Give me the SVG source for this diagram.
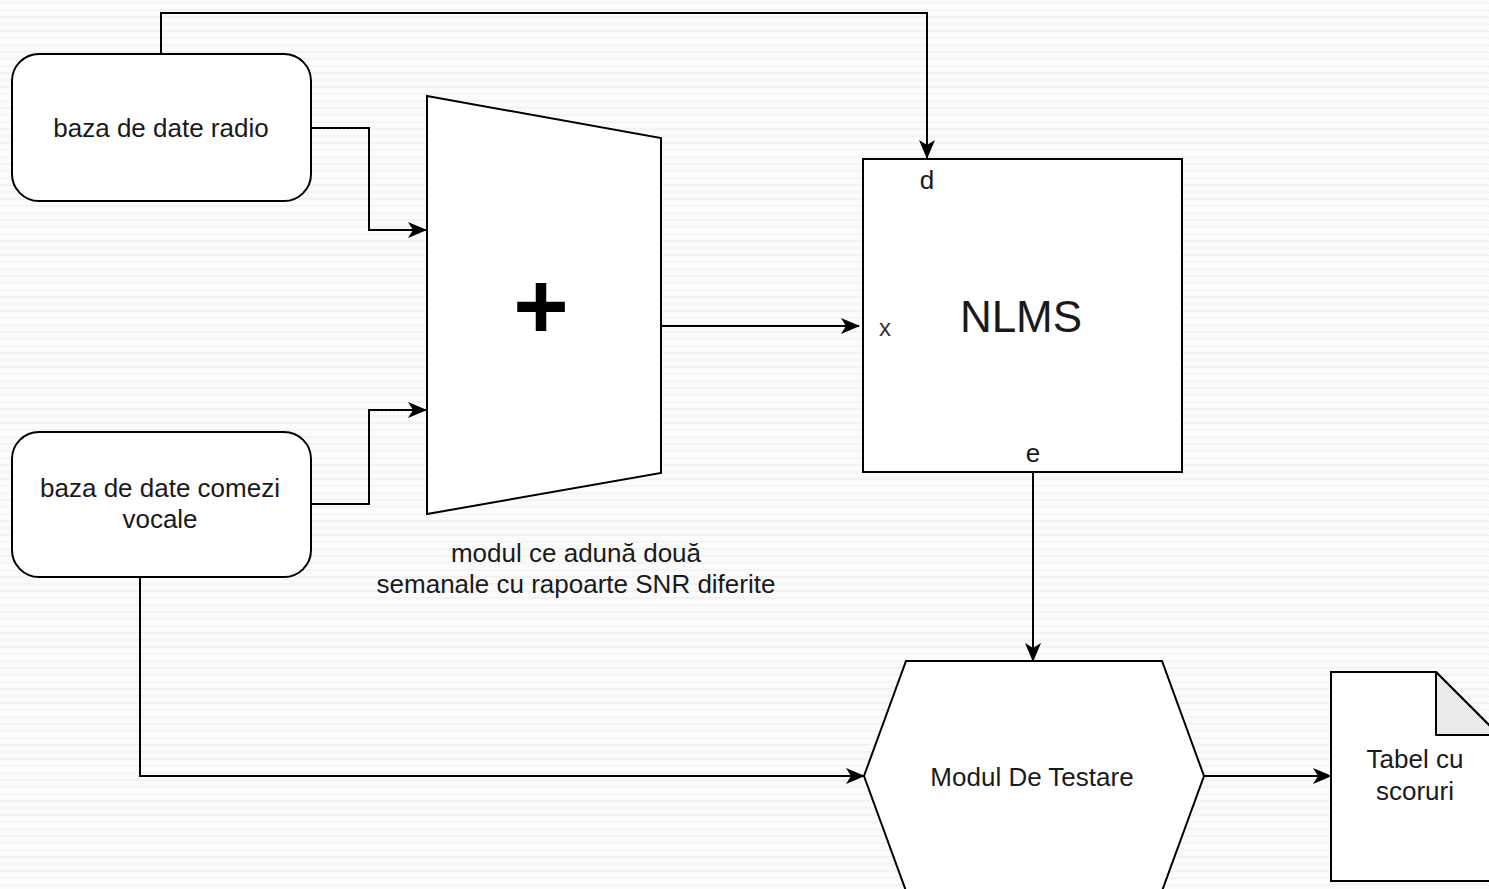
<svg xmlns="http://www.w3.org/2000/svg" width="1489" height="889" viewBox="0 0 1489 889">
<style>
.shape{fill:#ffffff;stroke:#000000;stroke-width:2}
.conn{fill:none;stroke:#000000;stroke-width:2}
.t{font-family:"Liberation Sans",Arial,sans-serif;font-size:26px;fill:#1a1a1a;text-anchor:middle}
</style>
<defs>
<pattern id="bg" width="8" height="7" patternUnits="userSpaceOnUse">
<path d="M0,4 L2,2 L4,4 L6,2 L8,4" fill="none" stroke="#ececec" stroke-width="1"/>
</pattern>
<marker id="arr" markerUnits="userSpaceOnUse" markerWidth="19" markerHeight="16" refX="18" refY="8" orient="auto">
<path d="M0,0 L19,8 L0,16 L5,8 Z" fill="#000000"/>
</marker>
</defs>
<rect width="1489" height="889" fill="#fbfbfb"/>
<rect width="1489" height="889" fill="url(#bg)"/>
<g id="connectors">
<path class="conn" d="M161,54 L161,13 L927,13 L927,158" marker-end="url(#arr)"/>
<path class="conn" d="M311,128 L369,128 L369,230 L426,230" marker-end="url(#arr)"/>
<path class="conn" d="M311,504 L369,504 L369,410 L426,410" marker-end="url(#arr)"/>
<path class="conn" d="M661,326 L859,326" marker-end="url(#arr)"/>
<path class="conn" d="M1033,472 L1033,661" marker-end="url(#arr)"/>
<path class="conn" d="M140,577 L140,776 L864,776" marker-end="url(#arr)"/>
<path class="conn" d="M1204,776 L1331,776" marker-end="url(#arr)"/>
</g>
<g id="radio">
<rect class="shape" x="12" y="54" width="299" height="147" rx="27" ry="27"/>
<text class="t" x="161" y="137">baza de date radio</text>
</g>
<g id="comenzi">
<rect class="shape" x="12" y="432" width="299" height="145" rx="27" ry="27"/>
<text class="t" x="160" y="497">baza de date comezi</text>
<text class="t" x="160" y="528">vocale</text>
</g>
<g id="adder">
<polygon class="shape" points="427,96 661,138 661,473 427,514"/>
<text x="541" y="338" font-family="Liberation Sans,Arial,sans-serif" font-size="95" font-weight="bold" text-anchor="middle" fill="#000">+</text>
<text class="t" x="576" y="562">modul ce adună două</text>
<text class="t" x="576" y="593">semanale cu rapoarte SNR diferite</text>
</g>
<g id="nlms">
<rect class="shape" x="863" y="159" width="319" height="313"/>
<text class="t" x="1021" y="332" style="font-size:44px">NLMS</text>
<text class="t" x="927" y="189">d</text>
<text class="t" x="885" y="336" style="font-size:24px;fill:#333">x</text>
<text class="t" x="1033" y="462">e</text>
</g>
<g id="testare">
<polygon class="shape" points="906,661 1162,661 1204,776 1162,891 906,891 864,776"/>
<text class="t" x="1032" y="786">Modul De Testare</text>
</g>
<g id="tabel">
<path class="shape" d="M1331,672 L1436,672 L1499,735 L1499,881 L1331,881 Z"/>
<path d="M1436,672 L1436,735 L1499,735 Z" fill="#ebebeb" stroke="#000" stroke-width="2" stroke-linejoin="round"/>
<text class="t" x="1415" y="768">Tabel cu</text>
<text class="t" x="1415" y="800">scoruri</text>
</g>
</svg>
